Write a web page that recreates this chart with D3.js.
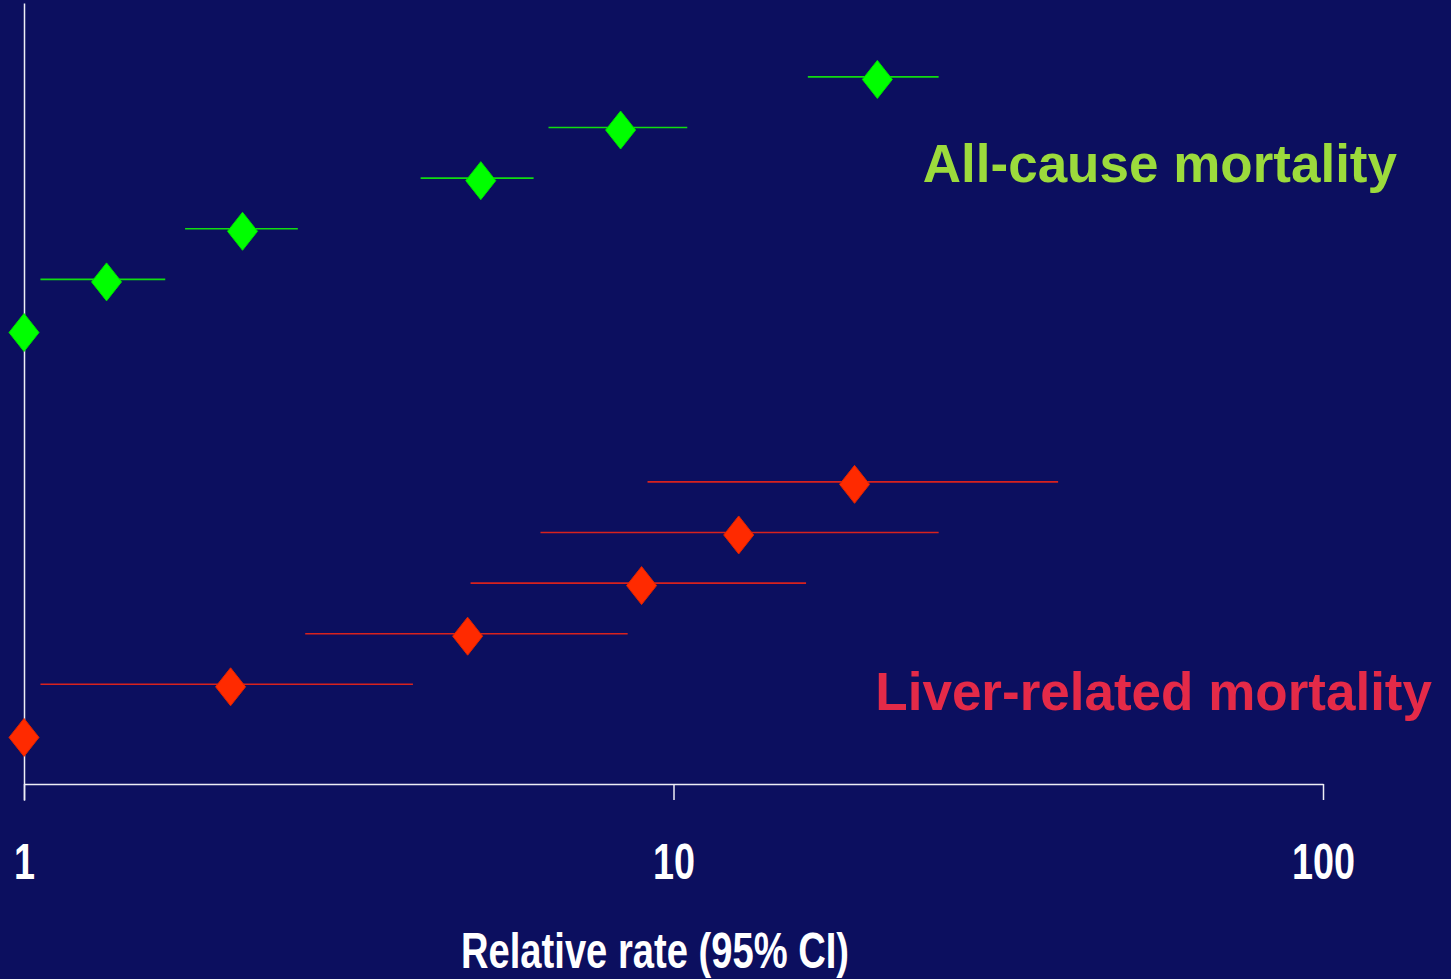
<html>
<head>
<script src="https://d3js.org/d3.v7.min.js"></script>
<style>
  body { margin: 0; background: #0c0f5f; }
  svg { display: block; }
  .axis path, .axis line { stroke: #eeeef6; stroke-width: 1.5; }
  .narrow { font-family: "Liberation Sans Narrow", "Liberation Sans", Arial, sans-serif; font-weight: bold; fill: #ffffff; }
  .label { font-family: "Liberation Sans", Arial, sans-serif; font-weight: bold; font-size: 53px; }
</style>
</head>
<body>
<svg width="1451" height="979"></svg>
<script>
// rows of the forest plot (bottom = 0), all-cause block sits above liver block
var liverRows = [0, 1, 2, 3, 4, 5];
var liverRR   = [1, 2.08, 4.82, 8.93, 12.6, 19.0];
var liverLo   = [1, 1.06, 2.71, 4.87, 6.24, 9.12];
var liverHi   = [1, 3.97, 8.50, 16.0, 25.6, 39.1];

var allRows = [8, 9, 10, 11, 12, 13];
var allRR   = [1, 1.34, 2.17, 5.05, 8.29, 20.6];
var allLo   = [1, 1.06, 1.77, 4.08, 6.42, 16.1];
var allHi   = [1, 1.65, 2.64, 6.09, 10.5, 25.6];

var xTicks = [1, 10, 100];
var xTitle = "Relative rate (95% CI)";
var seriesNames = ["All-cause mortality", "Liver-related mortality"];

var svg = d3.select("svg");
svg.append("rect").attr("width", 1451).attr("height", 979).attr("fill", "#0c0f5f");

var x = d3.scaleLog().domain([1, 100]).range([24, 1323]);
var y = d3.scaleLinear().domain([-0.93, 14.5]).range([784, 3]);

var xAxis = d3.axisBottom(x).tickValues(xTicks).tickSize(16).tickSizeOuter(0)
  .tickPadding(43).tickFormat(d3.format("d"));

var gx = svg.append("g").attr("class", "axis")
  .attr("transform", "translate(0," + y(-0.93) + ")")
  .call(xAxis);
gx.selectAll("text")
  .attr("class", "narrow")
  .style("font-size", "50px")
  .attr("textLength", function(d) { return String(d).length * 21; })
  .attr("lengthAdjust", "spacingAndGlyphs");

// vertical reference line at RR = 1
var yAxis = d3.axisLeft(d3.scaleLinear().domain([-1.25, 14.5]).range([y(-1.25), y(14.5)]))
  .tickValues([]).tickSizeOuter(0);
svg.append("g").attr("class", "axis")
  .attr("transform", "translate(" + x(1) + ",0)")
  .call(yAxis);

var diamond = "M0,-19L15,0L0,19L-15,0Z";

function drawSeries(rows, rr, lo, hi, lineColor, fillColor) {
  var data = rows.map(function(r, i) { return {row: r, rr: rr[i], lo: lo[i], hi: hi[i]}; });
  var g = svg.append("g");
  g.selectAll("line").data(data).enter().append("line")
    .attr("x1", function(d) { return x(d.lo); })
    .attr("x2", function(d) { return x(d.hi); })
    .attr("y1", function(d) { return y(d.row) - 2; })
    .attr("y2", function(d) { return y(d.row) - 2; })
    .attr("stroke", lineColor)
    .attr("stroke-width", 1.6);
  g.selectAll("path").data(data).enter().append("path")
    .attr("d", diamond)
    .attr("transform", function(d) { return "translate(" + x(d.rr) + "," + (y(d.row) + 0.5) + ")"; })
    .attr("fill", fillColor)
    .attr("stroke", d3.color(fillColor).darker(0.4))
    .attr("stroke-width", 1);
}

drawSeries(allRows, allRR, allLo, allHi, "#10dd10", "#00ff00");
drawSeries(liverRows, liverRR, liverLo, liverHi, "#d8221e", "#ff2a00");

svg.append("text").attr("class", "label")
  .attr("x", 1397).attr("y", 182).attr("text-anchor", "end")
  .attr("fill", "#9cdb3c").text(seriesNames[0]);

svg.append("text").attr("class", "label")
  .attr("x", 1432).attr("y", 710).attr("text-anchor", "end")
  .attr("fill", "#e42a48").text(seriesNames[1]);

svg.append("text").attr("class", "narrow")
  .attr("x", 655).attr("y", 968).attr("text-anchor", "middle")
  .style("font-size", "50px")
  .attr("textLength", 388).attr("lengthAdjust", "spacingAndGlyphs")
  .text(xTitle);
</script>
</body>
</html>
